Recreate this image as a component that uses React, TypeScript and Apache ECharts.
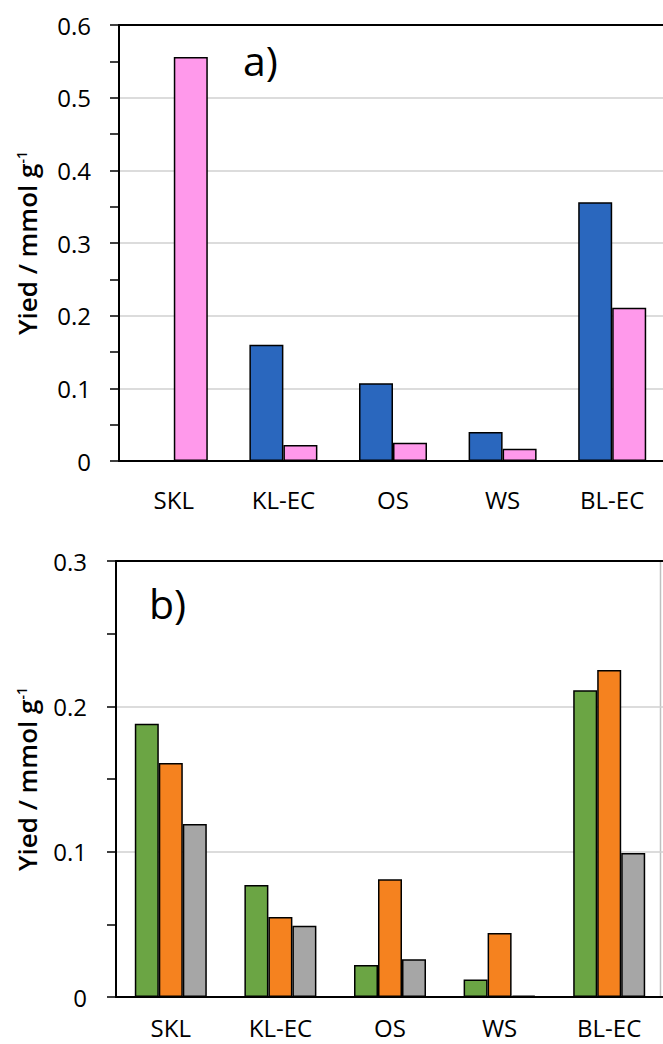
import React, { useEffect, useRef } from "react";
import * as echarts from "echarts";

const categories = ["SKL", "KL-EC", "OS", "WS", "BL-EC"];

// Panel a)
const aBlue = [0, 0.16, 0.107, 0.04, 0.356];
const aPink = [0.556, 0.022, 0.025, 0.017, 0.211];
const aTicks = { min: 0, max: 0.6, interval: 0.1 };

// Panel b)
const bGreen = [0.188, 0.077, 0.022, 0.012, 0.211];
const bOrange = [0.161, 0.055, 0.081, 0.044, 0.225];
const bGray = [0.119, 0.049, 0.026, 0.001, 0.099];
const bTicks = { min: 0, max: 0.3, interval: 0.1 };

const FONT = "Open Sans";

function fmt(v: number) {
  return String(Math.round(v * 100) / 100);
}

export default function App() {
  const ref = useRef<HTMLDivElement>(null);
  useEffect(() => {
    if (!ref.current) return;
    const chart = echarts.init(ref.current, null, { renderer: "svg" });

    const catAxis = (gridIndex: number, margin: number) => ({
      type: "category",
      gridIndex,
      data: categories,
      axisLine: { lineStyle: { color: "#000", width: 2 } },
      axisTick: { show: false },
      axisLabel: { fontSize: 24, lineHeight: 24, color: "#000", margin, fontFamily: FONT },
    });
    const topAxis = (gridIndex: number) => ({
      type: "category",
      gridIndex,
      position: "top",
      data: categories,
      axisLine: { lineStyle: { color: "#000", width: 2 } },
      axisTick: { show: false },
      axisLabel: { show: false },
    });
    const valAxis = (gridIndex: number, t: any, margin: number) => ({
      type: "value",
      gridIndex,
      min: t.min,
      max: t.max,
      interval: t.interval,
      axisLine: { show: true, lineStyle: { color: "#000", width: 2 } },
      axisTick: { show: true, length: 9, lineStyle: { color: "#000", width: 1.5 } },
      minorTick: { show: true, splitNumber: 2, length: 9, lineStyle: { color: "#000", width: 1.5 } },
      splitLine: { show: true, lineStyle: { color: "#D0D0D0", width: 1.5 } },
      axisLabel: { fontSize: 24, color: "#000", margin, fontFamily: FONT, formatter: fmt },
    });
    const bar = (name: string, data: number[], color: string, xi: number, yi: number, w: number) => ({
      type: "bar",
      name,
      data,
      xAxisIndex: xi,
      yAxisIndex: yi,
      barWidth: w,
      barGap: "0%",
      itemStyle: { color, borderColor: "#000", borderWidth: 1.5 },
    });

    const titleRich = {
      a: { fontSize: 26, fontWeight: 600, fontFamily: FONT, color: "#000" },
      s: { fontSize: 14, fontWeight: 600, fontFamily: FONT, verticalAlign: "top", color: "#000" },
    };

    chart.setOption({
      animation: false,
      textStyle: { fontFamily: FONT },
      grid: [
        { left: 119, top: 25, width: 548, height: 436 },
        { left: 116, top: 561, width: 548, height: 436 },
      ],
      xAxis: [catAxis(0, 26), topAxis(0), catAxis(1, 18), topAxis(1)],
      yAxis: [valAxis(0, aTicks, 28), valAxis(1, bTicks, 29)],
      series: [
        bar("Series 1", aBlue, "#2A67BE", 0, 0, 34),
        bar("Series 2", aPink, "#FF99EB", 0, 0, 34),
        bar("Series 3", bGreen, "#6BA544", 2, 1, 24),
        bar("Series 4", bOrange, "#F5821F", 2, 1, 24),
        bar("Series 5", bGray, "#A6A6A6", 2, 1, 24),
      ],
      graphic: [
        {
          type: "text",
          x: 27,
          y: 243,
          rotation: Math.PI / 2,
          style: { text: "{a|Yied / mmol g}{s|-1}", rich: titleRich, align: "center", verticalAlign: "middle" },
        },
        {
          type: "text",
          x: 27,
          y: 779,
          rotation: Math.PI / 2,
          style: { text: "{a|Yied / mmol g}{s|-1}", rich: titleRich, align: "center", verticalAlign: "middle" },
        },
        {
          type: "text",
          x: 243,
          y: 60,
          style: { text: "a)", fontSize: 41, fontFamily: FONT, fill: "#000", align: "left", verticalAlign: "middle" },
        },
        {
          type: "text",
          x: 149,
          y: 603,
          style: { text: "b)", fontSize: 41, fontFamily: FONT, fill: "#000", align: "left", verticalAlign: "middle" },
        },
        {
          type: "line",
          shape: { x1: 660.5, y1: 561, x2: 660.5, y2: 997 },
          style: { stroke: "#BFBFBF", lineWidth: 1.5 },
        },
      ],
    });
    return () => chart.dispose();
  }, []);

  return (
    <div style={{ position: "fixed", left: 0, top: 0, width: 663, height: 1044, overflow: "hidden", background: "#fff" }}>
      <div ref={ref} style={{ width: 670, height: 1044 }} />
    </div>
  );
}
